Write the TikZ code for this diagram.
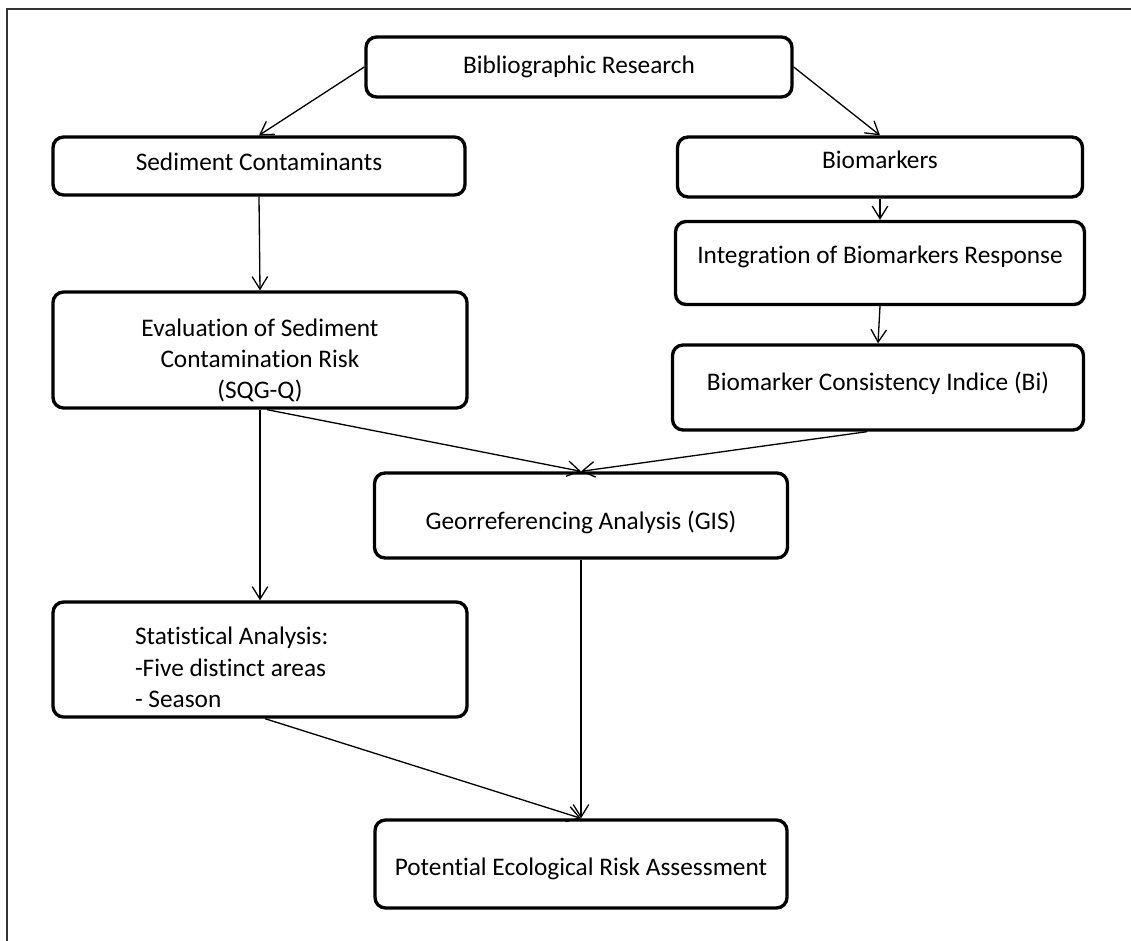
\documentclass[tikz,border=0pt]{standalone}
\usepackage{fontspec}
\setmainfont{Carlito}[Ligatures=NoCommon]
\usetikzlibrary{positioning,arrows.meta,calc}

\begin{document}
\begin{tikzpicture}[
    font=\fontsize{14.4}{17.8}\selectfont,
    >={Straight Barb[length=2.5mm, width=3.1mm]},
    blk/.style={draw, line width=1.9pt, rounded corners=6pt, fill=white, align=center,
                inner sep=1mm},
    sig/.style={->, line width=0.75pt},
    frm/.style={line width=0.9pt, draw=black!80},
  ]
  \useasboundingbox (0,0) rectangle (22.62,-18.82);

  % ============ Cornice (solo lati alto e sinistro) ============
  \coordinate (frmNE) at (22.62,-0.18);
  \coordinate (frmNW) at (0.14,-0.18);
  \coordinate (frmSW) at (0.14,-18.82);
  \draw[frm] (frmNE) -- (frmNW) -- (frmSW);

  % ============ Ricerca e due rami ============
  \node[blk, minimum width=8.52cm, minimum height=1.20cm] (bib) at (11.58,-1.34) {Bibliographic Research};
  \node[blk, minimum width=8.24cm, minimum height=1.16cm] (sed) at (5.18,-3.32) {Sediment Contaminants\\[-13.3pt]};
  \node[blk, minimum width=8.10cm, minimum height=1.20cm] (bio) at (17.60,-3.34) {Biomarkers\\[-9.9pt]};

  \draw[sig] (bib.west) -- (sed.north);
  \draw[sig] (bib.east) -- (bio.north);

  % ============ Ramo biomarcatori ============
  \node[blk, minimum width=8.18cm, minimum height=1.66cm] (integ) at (17.60,-5.26) {Integration of Biomarkers Response\\[-8.7pt]};
  \node[blk, minimum width=8.22cm, minimum height=1.70cm] (cons) at (17.56,-7.75) {Biomarker Consistency Indice (Bi)\\[-11pt]};

  \draw[sig] (bio.south) -- (integ.north);
  \draw[sig] (integ.south) -- (cons.north);

  % ============ Ramo sedimenti ============
  \node[blk, minimum width=8.28cm, minimum height=2.32cm, inner ysep=0.5mm] (eval) at (5.20,-7.00) {\rule{0pt}{22pt}Evaluation of Sediment\\Contamination Risk\\(SQG-Q)};
  \node[blk, minimum width=8.28cm, minimum height=2.30cm, text width=5.0cm, align=flush left] (stat) at (5.20,-13.19) {\rule{0pt}{19pt}Statistical Analysis:\\-Five distinct areas\\- Season};

  \draw[sig] (sed.south) -- (eval.north);
  \draw[sig] (eval.south) -- (stat.north);

  % ============ Sintesi ============
  \node[blk, minimum width=8.26cm, minimum height=1.70cm] (gis) at (11.62,-10.31) {\rule{0pt}{18.5pt}Georreferencing Analysis (GIS)};
  \node[blk, minimum width=8.24cm, minimum height=1.76cm] (pot) at (11.62,-17.28) {\rule{0pt}{15pt}Potential Ecological Risk Assessment};

  \draw[sig] ([xshift=1.4mm]eval.south) -- (gis.north);
  \draw[sig] ([xshift=-2.2mm]cons.south) -- (gis.north);
  \draw[sig] (gis.south) -- (pot.north);
  \draw[sig] ([xshift=1mm]stat.south) -- (pot.north);

\end{tikzpicture}
\end{document}
